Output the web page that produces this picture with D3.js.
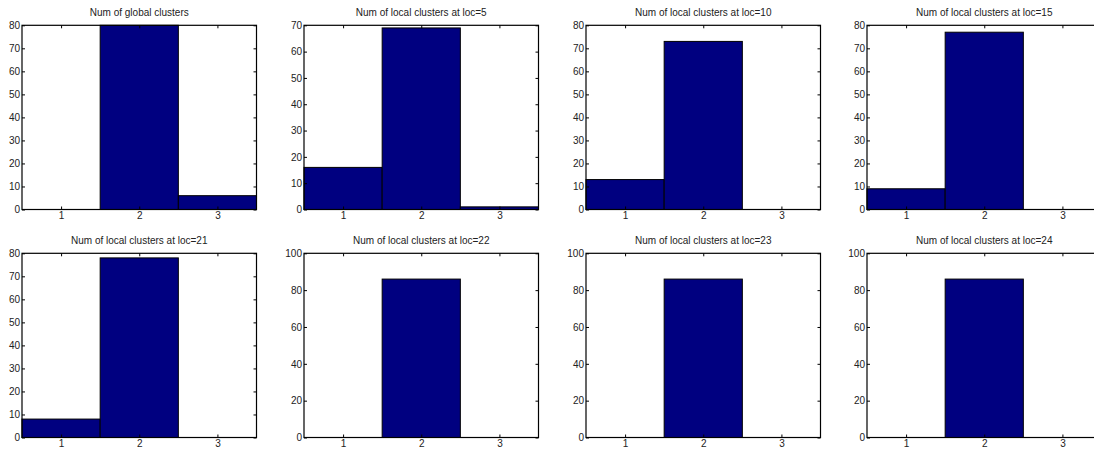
<!DOCTYPE html>
<html>
<head>
<meta charset="utf-8">
<script src="https://cdn.jsdelivr.net/npm/d3@7/dist/d3.min.js"></script>
<style>
  html, body { margin: 0; padding: 0; background: #fff; }
  svg { display: block; }
  text { font-family: "Liberation Sans", Arial, sans-serif; }
</style>
</head>
<body>
<svg id="chart" width="1094" height="449"></svg>
<script>
// ---- data ----
const categories = [1, 2, 3];
const titles = [
  "Num of global clusters",
  "Num of local clusters at loc=5",
  "Num of local clusters at loc=10",
  "Num of local clusters at loc=15",
  "Num of local clusters at loc=21",
  "Num of local clusters at loc=22",
  "Num of local clusters at loc=23",
  "Num of local clusters at loc=24"
];
const countsGlobal = [0, 80, 6];
const countsLoc5  = [16, 69, 1];
const countsLoc10 = [13, 73, 0];
const countsLoc15 = [9, 77, 0];
const countsLoc21 = [8, 78, 0];
const countsLoc22 = [0, 86, 0];
const countsLoc23 = [0, 86, 0];
const countsLoc24 = [0, 86, 0];
const yMaxes = [80, 70, 80, 80, 80, 100, 100, 100];
const yTickSteps = [10, 10, 10, 10, 10, 20, 20, 20];
const allCounts = [countsGlobal, countsLoc5, countsLoc10, countsLoc15,
                   countsLoc21, countsLoc22, countsLoc23, countsLoc24];

// ---- layout ----
const colLeft = [22, 304, 586, 867];
const axW = 234.5;
const rowTop = [25.3, 253.3];
const axH = 184.2;

const svg = d3.select("#chart");

allCounts.forEach((counts, i) => {
  const r = Math.floor(i / 4), c = i % 4;
  const x0 = colLeft[c], y0 = rowTop[r];
  const g = svg.append("g").attr("transform", `translate(${x0},${y0})`);

  const x = d3.scaleLinear().domain([0.5, 3.5]).range([0, axW]);
  const y = d3.scaleLinear().domain([0, yMaxes[i]]).range([axH, 0]);
  const yticks = d3.range(0, yMaxes[i] + 0.001, yTickSteps[i]);

  // bars
  g.selectAll("rect.bar").data(counts.map((v, k) => ({v, k: categories[k]})))
    .enter().append("rect")
    .attr("class", "bar")
    .attr("x", d => x(d.k - 0.5))
    .attr("width", d => x(d.k + 0.5) - x(d.k - 0.5))
    .attr("y", d => y(d.v))
    .attr("height", d => y(0) - y(d.v))
    .attr("fill", "#000080")
    .attr("stroke", "#000")
    .attr("stroke-width", 1);

  const fmt = d3.format("d");
  // bottom axis
  const xb = g.append("g").attr("transform", `translate(0,${axH})`)
    .call(d3.axisBottom(x).tickValues(categories).tickFormat(fmt).tickSize(-3).tickPadding(2));
  // top axis (ticks only)
  const xt = g.append("g")
    .call(d3.axisTop(x).tickValues(categories).tickFormat("").tickSize(-3));
  // left axis
  const yl = g.append("g")
    .call(d3.axisLeft(y).tickValues(yticks).tickFormat(fmt).tickSize(-3).tickPadding(2));
  // right axis (ticks only)
  const yr = g.append("g").attr("transform", `translate(${axW},0)`)
    .call(d3.axisRight(y).tickValues(yticks).tickFormat("").tickSize(-3));

  [xb, xt, yl, yr].forEach(a => {
    a.select(".domain").remove();
    a.selectAll("line").attr("stroke", "#000").attr("stroke-width", 1);
    a.selectAll("text").attr("fill", "#222").style("font-size", "10px")
      .style("font-family", "'Liberation Sans', Arial, sans-serif");
  });

  // box
  g.append("rect").attr("x", 0).attr("y", 0).attr("width", axW).attr("height", axH)
    .attr("fill", "none").attr("stroke", "#000").attr("stroke-width", 1.2);

  // title
  g.append("text")
    .attr("x", axW / 2).attr("y", -9)
    .attr("text-anchor", "middle")
    .attr("fill", "#222")
    .style("font-size", "10px")
    .text(titles[i]);
});
</script>
</body>
</html>
